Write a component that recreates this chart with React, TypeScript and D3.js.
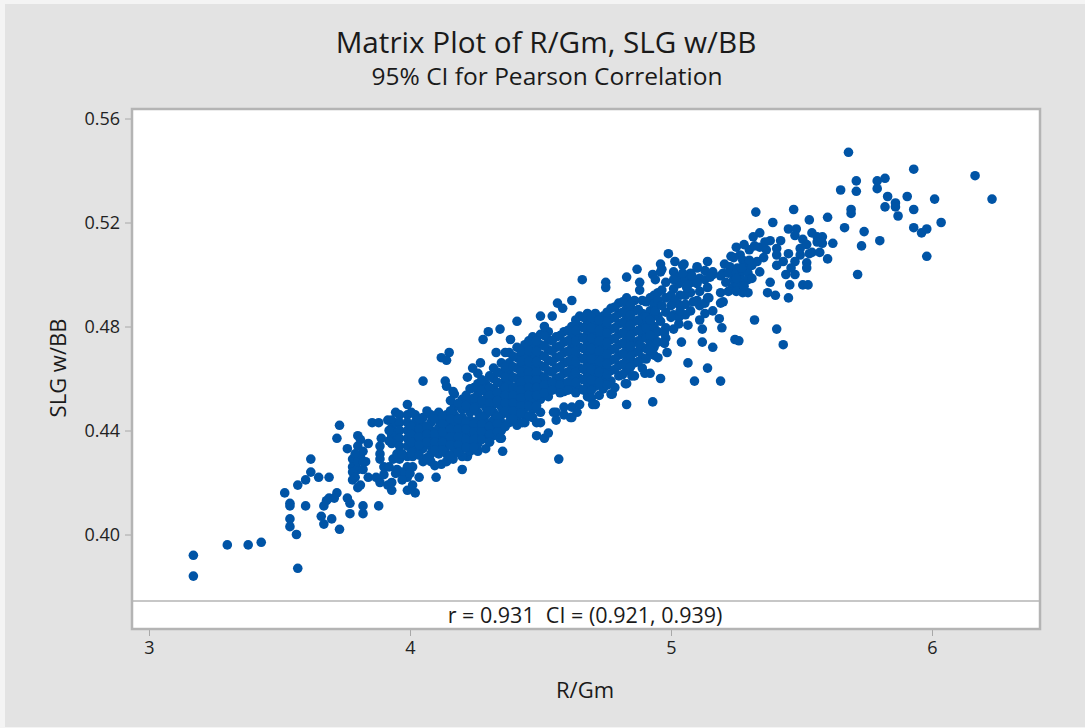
import React, { useRef, useEffect } from 'react';
import * as d3 from 'd3';

const xTicks = [3, 4, 5, 6];
const yTicks = [0.40, 0.44, 0.48, 0.52, 0.56];

// Outlying teams at the low end, [R/Gm, SLG w/BB]
const lowRuns: [number, number][] = [
    [3.17, .392], [3.17, .384], [3.30, .396], [3.38, .396], [3.43, .397], [3.57, .387], [3.52, .416], [3.54, .412],
    [3.54, .411], [3.60, .411], [3.54, .406], [3.54, .403], [3.565, .400], [3.62, .429], [3.62, .424], [3.60, .421],
    [3.57, .419], [3.65, .422], [3.69, .422], [3.73, .442], [3.72, .437], [3.67, .411], [3.66, .407], [3.67, .404],
    [3.70, .406], [3.69, .414], [3.72, .416], [3.76, .414], [3.77, .412], [3.77, .408], [3.73, .402], [3.82, .411],
    [3.82, .408], [3.88, .411], [3.68, .413], [3.71, .414], [3.76, .433], [3.80, .438], [3.80, .434], [3.84, .435],
    [3.78, .429], [3.81, .430], [3.78, .426], [3.80, .425], [3.78, .424], [3.78, .421], [3.80, .418], [3.81, .419],
    [3.84, .422], [3.87, .422], [3.885, .420], [3.915, .419], [3.93, .417], [3.93, .420], [3.885, .434], [3.885, .431],
    [3.885, .429], [3.90, .426], [3.92, .426], [3.935, .429], [3.96, .429], [3.99, .430], [4.01, .430], [3.99, .426],
    [4.01, .426], [3.99, .422], [4.035, .422], [3.99, .417], [4.02, .416], [4.01, .419], [3.855, .443], [3.88, .443],
    [3.915, .444], [3.82, .432], [3.83, .428], [3.79, .431], [3.82, .425], [4.10, .422], [4.12, .427], [4.165, .429],
    [4.22, .430], [4.255, .433], [4.05, .459], [4.135, .459], [4.12, .468], [4.15, .470], [4.14, .467],
    [3.93, .444], [3.93, .441], [3.93, .438], [3.93, .435], [3.945, .447], [3.945, .443], [3.945, .439], [3.945, .436],
    [3.92, .440], [3.92, .436], [3.89, .437], [3.95, .425], [3.97, .424], [3.97, .421], [3.90, .423], [3.945, .4235],
    [4.00, .4235], [3.95, .431], [3.97, .431], [3.80, .428], [3.82, .428], [3.79, .422], [3.81, .4365],
];

// Dense band: each row is one R/Gm value with the SLG w/BB readings above it
const denseBand: [number, number[]][] = [
    [3.96, [.446, .443, .440, .437, .434]],
    [3.99, [.450, .446, .443, .440, .437, .434]],
    [4.02, [.446, .443, .440, .438, .435, .433]],
    [4.05, [.445, .442, .439, .436, .433, .428]],
    [4.08, [.446, .443, .440, .437, .434, .431, .428]],
    [4.11, [.447, .444, .441, .438, .434, .431]],
    [4.14, [.457, .446, .443, .440, .437, .434, .431, .428]],
    [4.17, [.454, .449, .446, .442, .439, .436, .433]],
    [4.20, [.452, .448, .445, .442, .439, .436, .433, .430, .425]],
    [4.23, [.456, .451, .447, .444, .441, .438, .435, .432]],
    [4.26, [.462, .458, .454, .450, .447, .444, .441, .438, .435, .432]],
    [4.29, [.458, .455, .452, .449, .446, .443, .440, .437, .433]],
    [4.32, [.464, .460, .456, .453, .450, .447, .444, .441, .438]],
    [4.35, [.466, .462, .458, .455, .452, .449, .446, .443, .440, .437]],
    [4.38, [.470, .466, .462, .458, .455, .452, .449, .446, .443]],
    [4.41, [.472, .468, .464, .460, .457, .454, .451, .448, .445, .442]],
    [4.44, [.473, .469, .465, .461, .458, .455, .452, .449, .446, .443]],
    [4.47, [.476, .472, .468, .464, .460, .457, .454, .451, .448, .445]],
    [4.50, [.477, .473, .469, .465, .461, .458, .455, .452, .447, .443]],
    [4.53, [.478, .475, .471, .467, .463, .459, .456, .453]],
    [4.56, [.476, .472, .468, .464, .460, .456, .447, .444]],
    [4.59, [.478, .474, .470, .466, .462, .458, .455, .449, .446]],
    [4.62, [.480, .476, .472, .468, .464, .460, .456, .449, .445]],
    [4.65, [.484, .480, .476, .472, .468, .464, .460, .456, .450]],
    [4.68, [.485, .481, .477, .473, .469, .465, .461, .457, .453]],
    [4.71, [.485, .481, .477, .473, .469, .465, .461, .457, .450]],
    [4.74, [.484, .480, .476, .472, .468, .464, .460, .456]],
    [4.77, [.487, .483, .479, .475, .471, .467, .463, .459, .454]],
    [4.80, [.489, .485, .481, .477, .473, .469, .465, .461]],
    [4.83, [.491, .487, .483, .479, .475, .471, .467, .463, .458]],
    [4.86, [.490, .486, .482, .478, .474, .470, .466, .461]],
    [4.89, [.490, .485, .481, .477, .472, .468, .464]],
    [4.92, [.491, .486, .482, .478, .474, .470, .462]],
];

// More readings in between the rows above, where the dots merge
const denseBandFill: [number, number[]][] = [
    [4.005, [.447, .4415, .4385, .4355, .4315]],
    [4.035, [.4445, .4405, .4375, .4345, .4305]],
    [4.065, [.4475, .4415, .4385, .4355, .4295]],
    [4.095, [.4445, .4385, .4355, .4325, .4265]],
    [4.125, [.4455, .4425, .4395, .4355, .4325]],
    [4.155, [.4515, .4475, .4445, .4405, .4375, .4345, .4305]],
    [4.185, [.4505, .4445, .4405, .4375, .4345, .4315]],
    [4.215, [.4535, .4495, .4435, .4405, .4365, .4335]],
    [4.245, [.4565, .4525, .4485, .4425, .4395, .4365, .4335]],
    [4.275, [.4595, .4555, .4515, .4455, .4425, .4395, .4365]],
    [4.305, [.4565, .4535, .4505, .4475, .4415, .4385, .4355]],
    [4.335, [.4625, .4585, .4545, .4515, .4455, .4425, .4395]],
    [4.365, [.4645, .4605, .4565, .4535, .4505, .4475, .4415]],
    [4.395, [.4685, .4645, .4605, .4565, .4535, .4505, .4475, .4445]],
    [4.425, [.4705, .4665, .4625, .4585, .4555, .4525, .4495, .4465]],
    [4.455, [.4745, .4705, .4665, .4625, .4595, .4565, .4535, .4495, .4455]],
    [4.485, [.4745, .4705, .4665, .4625, .4595, .4565, .4535, .4495]],
    [4.515, [.4765, .4725, .4685, .4645, .4605, .4575, .4545]],
    [4.545, [.4745, .4705, .4665, .4625, .4585, .4555]],
    [4.575, [.4765, .4725, .4685, .4645, .4605, .4575, .4545]],
    [4.605, [.4785, .4745, .4705, .4665, .4625, .4585, .4555]],
    [4.635, [.4825, .4785, .4745, .4705, .4665, .4625, .4585, .4545]],
    [4.665, [.4835, .4795, .4755, .4715, .4675, .4635, .4595, .4555]],
    [4.695, [.4835, .4795, .4755, .4715, .4675, .4635, .4595, .4555, .4525]],
    [4.725, [.4825, .4785, .4745, .4705, .4665, .4625, .4585, .4535]],
    [4.755, [.4855, .4815, .4775, .4735, .4695, .4655, .4615, .4575]],
    [4.785, [.4875, .4835, .4795, .4755, .4715, .4675, .4635, .4565]],
    [4.815, [.4895, .4855, .4815, .4775, .4735, .4695, .4655, .4615]],
    [4.845, [.4885, .4845, .4805, .4765, .4725, .4685, .4645]],
    [4.875, [.4865, .4825, .4785, .4745, .4705, .4665]],
    [4.905, [.4895, .4835, .4795, .4755, .4715, .4675]],
    [4.935, [.492, .4885, .484, .480, .476, .472, .469]],
    [4.95, [.493, .490, .484, .478, .474]],
    [4.98, [.497, .491, .4855, .4795, .4755]],
    [5.01, [.501, .4945, .4895, .4845, .479]],
    [5.03, [.499, .4965, .4885, .4835]],
    [5.055, [.498, .492, .4885, .4845]],
    [5.075, [.5005, .493, .486]],
    [5.11, [.4985, .4935, .488, .4825]],
    [5.13, [.5015, .498, .489]],
];

// Scattered points around the edge of the band
const bandEdges: [number, number][] = [
    [4.165, .455], [4.22, .4605], [4.27, .466], [4.24, .464], [4.305, .461], [4.33, .470], [4.365, .470], [4.28, .475],
    [4.30, .478], [4.345, .479], [4.41, .482], [4.385, .475], [4.50, .484], [4.545, .484], [4.515, .480], [4.565, .489],
    [4.585, .487], [4.62, .490], [4.66, .498], [4.75, .497], [4.75, .495], [4.83, .499], [4.87, .502], [4.88, .497],
    [4.88, .494], [4.57, .429], [4.355, .432], [4.345, .437], [4.485, .438], [4.515, .437], [4.53, .439], [4.485, .443],
    [4.43, .443], [4.615, .445], [4.64, .447], [4.55, .447], [4.70, .450], [4.775, .454], [4.83, .450], [4.93, .451],
    [4.825, .458], [4.85, .461], [4.90, .462], [4.96, .460], [4.95, .468],
];

// Upper end of the cloud
const highRuns: [number, number][] = [
    [4.93, .500], [4.96, .504], [4.96, .501], [4.94, .498], [4.99, .508], [5.015, .505], [5.05, .504], [5.06, .499],
    [5.06, .495], [5.10, .503], [5.14, .505], [5.16, .500], [5.08, .497], [5.14, .495], [5.14, .491], [5.10, .490],
    [5.19, .493], [5.13, .485], [5.16, .486], [5.12, .479], [5.12, .474], [5.16, .472], [5.065, .466], [5.14, .464],
    [5.09, .459], [5.04, .474], [5.045, .5035], [5.045, .5005], [5.08, .4995], [5.10, .4965], [5.065, .496], [5.01, .498],
    [4.965, .502], [4.965, .494], [5.00, .492], [5.035, .492], [5.085, .4895], [5.015, .490], [5.035, .486], [5.00, .4835],
    [5.03, .481], [5.065, .4805], [4.975, .4775], [4.975, .4735], [4.985, .470], [4.94, .486], [4.965, .488], [4.92, .4825],
    [4.96, .482], [5.00, .488], [4.92, .4765], [4.88, .473], [4.92, .471], [5.10, .5025], [5.16, .501], [5.15, .499],
    [5.19, .4995], [5.145, .491], [5.20, .4895], [5.19, .489], [5.185, .483], [5.195, .4795], [5.245, .475], [5.26, .4745],
    [5.32, .4825], [5.405, .479], [5.43, .473], [5.19, .459], [5.205, .504], [5.225, .503], [5.255, .5025], [5.29, .5015],
    [5.20, .5005], [5.235, .5005], [5.265, .5005], [5.295, .5005], [5.34, .501], [5.24, .498], [5.27, .498], [5.295, .498],
    [5.235, .495], [5.255, .496], [5.275, .493], [5.295, .493], [5.38, .497], [5.37, .493], [5.40, .492], [5.30, .5095],
    [5.265, .5075], [5.24, .5065], [5.275, .5055], [5.33, .505], [5.38, .513], [5.405, .510], [5.34, .5105], [5.365, .5095],
    [5.405, .5075], [5.405, .5035], [5.355, .5065], [5.45, .508], [5.325, .524], [5.47, .525], [5.39, .520], [5.53, .521],
    [5.60, .522], [5.45, .5175], [5.48, .5175], [5.34, .516], [5.315, .5145], [5.54, .516], [5.475, .515], [5.505, .5135],
    [5.58, .5145], [5.56, .5145], [5.62, .512], [5.58, .512], [5.56, .5125], [5.60, .506], [5.53, .508], [5.495, .510],
    [5.495, .5075], [5.52, .5045], [5.52, .5025], [5.475, .505], [5.475, .500], [5.505, .496], [5.525, .496], [5.455, .496],
    [5.45, .491], [5.68, .547], [5.93, .5405], [6.165, .538], [6.23, .529], [5.71, .536], [5.71, .532], [5.65, .5325],
    [5.79, .536], [5.82, .537], [5.79, .533], [5.83, .530], [5.82, .526], [5.86, .5275], [5.86, .526], [5.905, .530],
    [5.93, .525], [6.01, .529], [5.87, .5225], [6.035, .520], [5.93, .518], [5.96, .516], [5.98, .5175], [5.98, .507],
    [5.69, .525], [5.69, .5235], [5.665, .518], [5.74, .5165], [5.73, .511], [5.80, .513], [5.715, .500],
    [5.21, .497], [5.22, .5005], [5.25, .5005], [5.28, .5035], [5.22, .4935], [5.25, .4935], [5.25, .4985], [5.28, .4955],
    [5.31, .4985], [5.31, .5035], [5.27, .5025], [5.30, .5055], [5.23, .507], [5.25, .5105], [5.28, .5115], [5.32, .511],
    [5.36, .5125], [5.42, .513], [5.43, .505], [5.44, .500], [5.46, .5025], [5.52, .5115], [5.54, .5085], [5.57, .5085],
];

const MatrixPlot = () => {
    const svgRef = useRef<SVGSVGElement>(null);

    useEffect(() => {
        const width = 1085;
        const height = 728;
        const frameLeft = 132;
        const frameRight = 1040;
        const frameTop = 109;
        const frameBottom = 629;
        const dividerY = 601;
        const font = '"Open Sans", sans-serif';

        const svg = d3.select(svgRef.current)
            .attr('width', width)
            .attr('height', height)
            .attr('viewBox', `0 0 ${width} ${height}`)
            .style('position', 'absolute')
            .style('left', 0)
            .style('top', 0)
            .style('font-family', font);

        svg.selectAll('*').remove();

        const fromRows = (rows: [number, number[]][]) =>
            rows.flatMap(([r, slgs]) => slgs.map(s => [r, s] as [number, number]));

        const points = [
            ...lowRuns,
            ...fromRows(denseBand),
            ...fromRows(denseBandFill),
            ...bandEdges,
            ...highRuns,
        ];

        const x = d3.scaleLinear().domain([3, 6]).range([149, 932]);
        const y = d3.scaleLinear().domain([0.40, 0.56]).range([534.5, 118.5]);

        // Backgrounds
        svg.append('rect').attr('width', width).attr('height', height).attr('fill', '#f4f4f4');
        svg.append('rect').attr('x', 5).attr('y', 4)
            .attr('width', width - 5).attr('height', height - 5).attr('fill', '#e3e3e3');
        svg.append('rect')
            .attr('x', frameLeft).attr('y', frameTop)
            .attr('width', frameRight - frameLeft).attr('height', frameBottom - frameTop)
            .attr('fill', '#fff');

        // Axes
        svg.append('g')
            .attr('transform', `translate(0,${frameBottom})`)
            .call(d3.axisBottom(x).tickValues(xTicks).tickFormat(d3.format('d')).tickSize(7).tickPadding(5))
            .call(g => g.select('.domain').remove())
            .call(g => g.selectAll('.tick line').attr('stroke', '#a8a8a8'))
            .call(g => g.selectAll('.tick text').attr('fill', '#222').style('font-size', '18px').style('font-family', font));

        svg.append('g')
            .attr('transform', `translate(${frameLeft},0)`)
            .call(d3.axisLeft(y).tickValues(yTicks).tickFormat(d3.format('.2f')).tickSize(7).tickPadding(5))
            .call(g => g.select('.domain').remove())
            .call(g => g.selectAll('.tick line').attr('stroke', '#a8a8a8'))
            .call(g => g.selectAll('.tick text').attr('fill', '#222').style('font-size', '18px').style('font-family', font));

        // Points
        svg.append('g')
            .selectAll('circle')
            .data(points)
            .join('circle')
            .attr('cx', d => x(d[0]))
            .attr('cy', d => y(d[1]))
            .attr('r', 4.8)
            .attr('fill', '#0054a6');

        // Frame and the strip holding the correlation
        svg.append('rect')
            .attr('x', frameLeft).attr('y', frameTop)
            .attr('width', frameRight - frameLeft).attr('height', frameBottom - frameTop)
            .attr('fill', 'none')
            .attr('stroke', '#b4b4b4')
            .attr('stroke-width', 2.5);
        svg.append('line')
            .attr('x1', frameLeft).attr('x2', frameRight)
            .attr('y1', dividerY).attr('y2', dividerY)
            .attr('stroke', '#b4b4b4')
            .attr('stroke-width', 1.5);

        const label = (text: string, px: number, py: number, size: number) =>
            svg.append('text')
                .attr('x', px).attr('y', py)
                .attr('text-anchor', 'middle')
                .attr('fill', '#1a1a1a')
                .style('font-size', `${size}px`)
                .text(text);

        label('Matrix Plot of R/Gm, SLG w/BB', 546, 53, 29.7);
        label('95% CI for Pearson Correlation', 547, 85, 24.5);
        label('r = 0.931\u00a0\u00a0CI = (0.921, 0.939)', 585, 623, 21.5);
        label('R/Gm', 585, 698, 22);
        label('SLG w/BB', 0, 0, 22)
            .attr('transform', 'translate(66,368) rotate(-90)');
    }, []);

    return <svg ref={svgRef}></svg>;
};

export default function App() {
    return <MatrixPlot />;
}
